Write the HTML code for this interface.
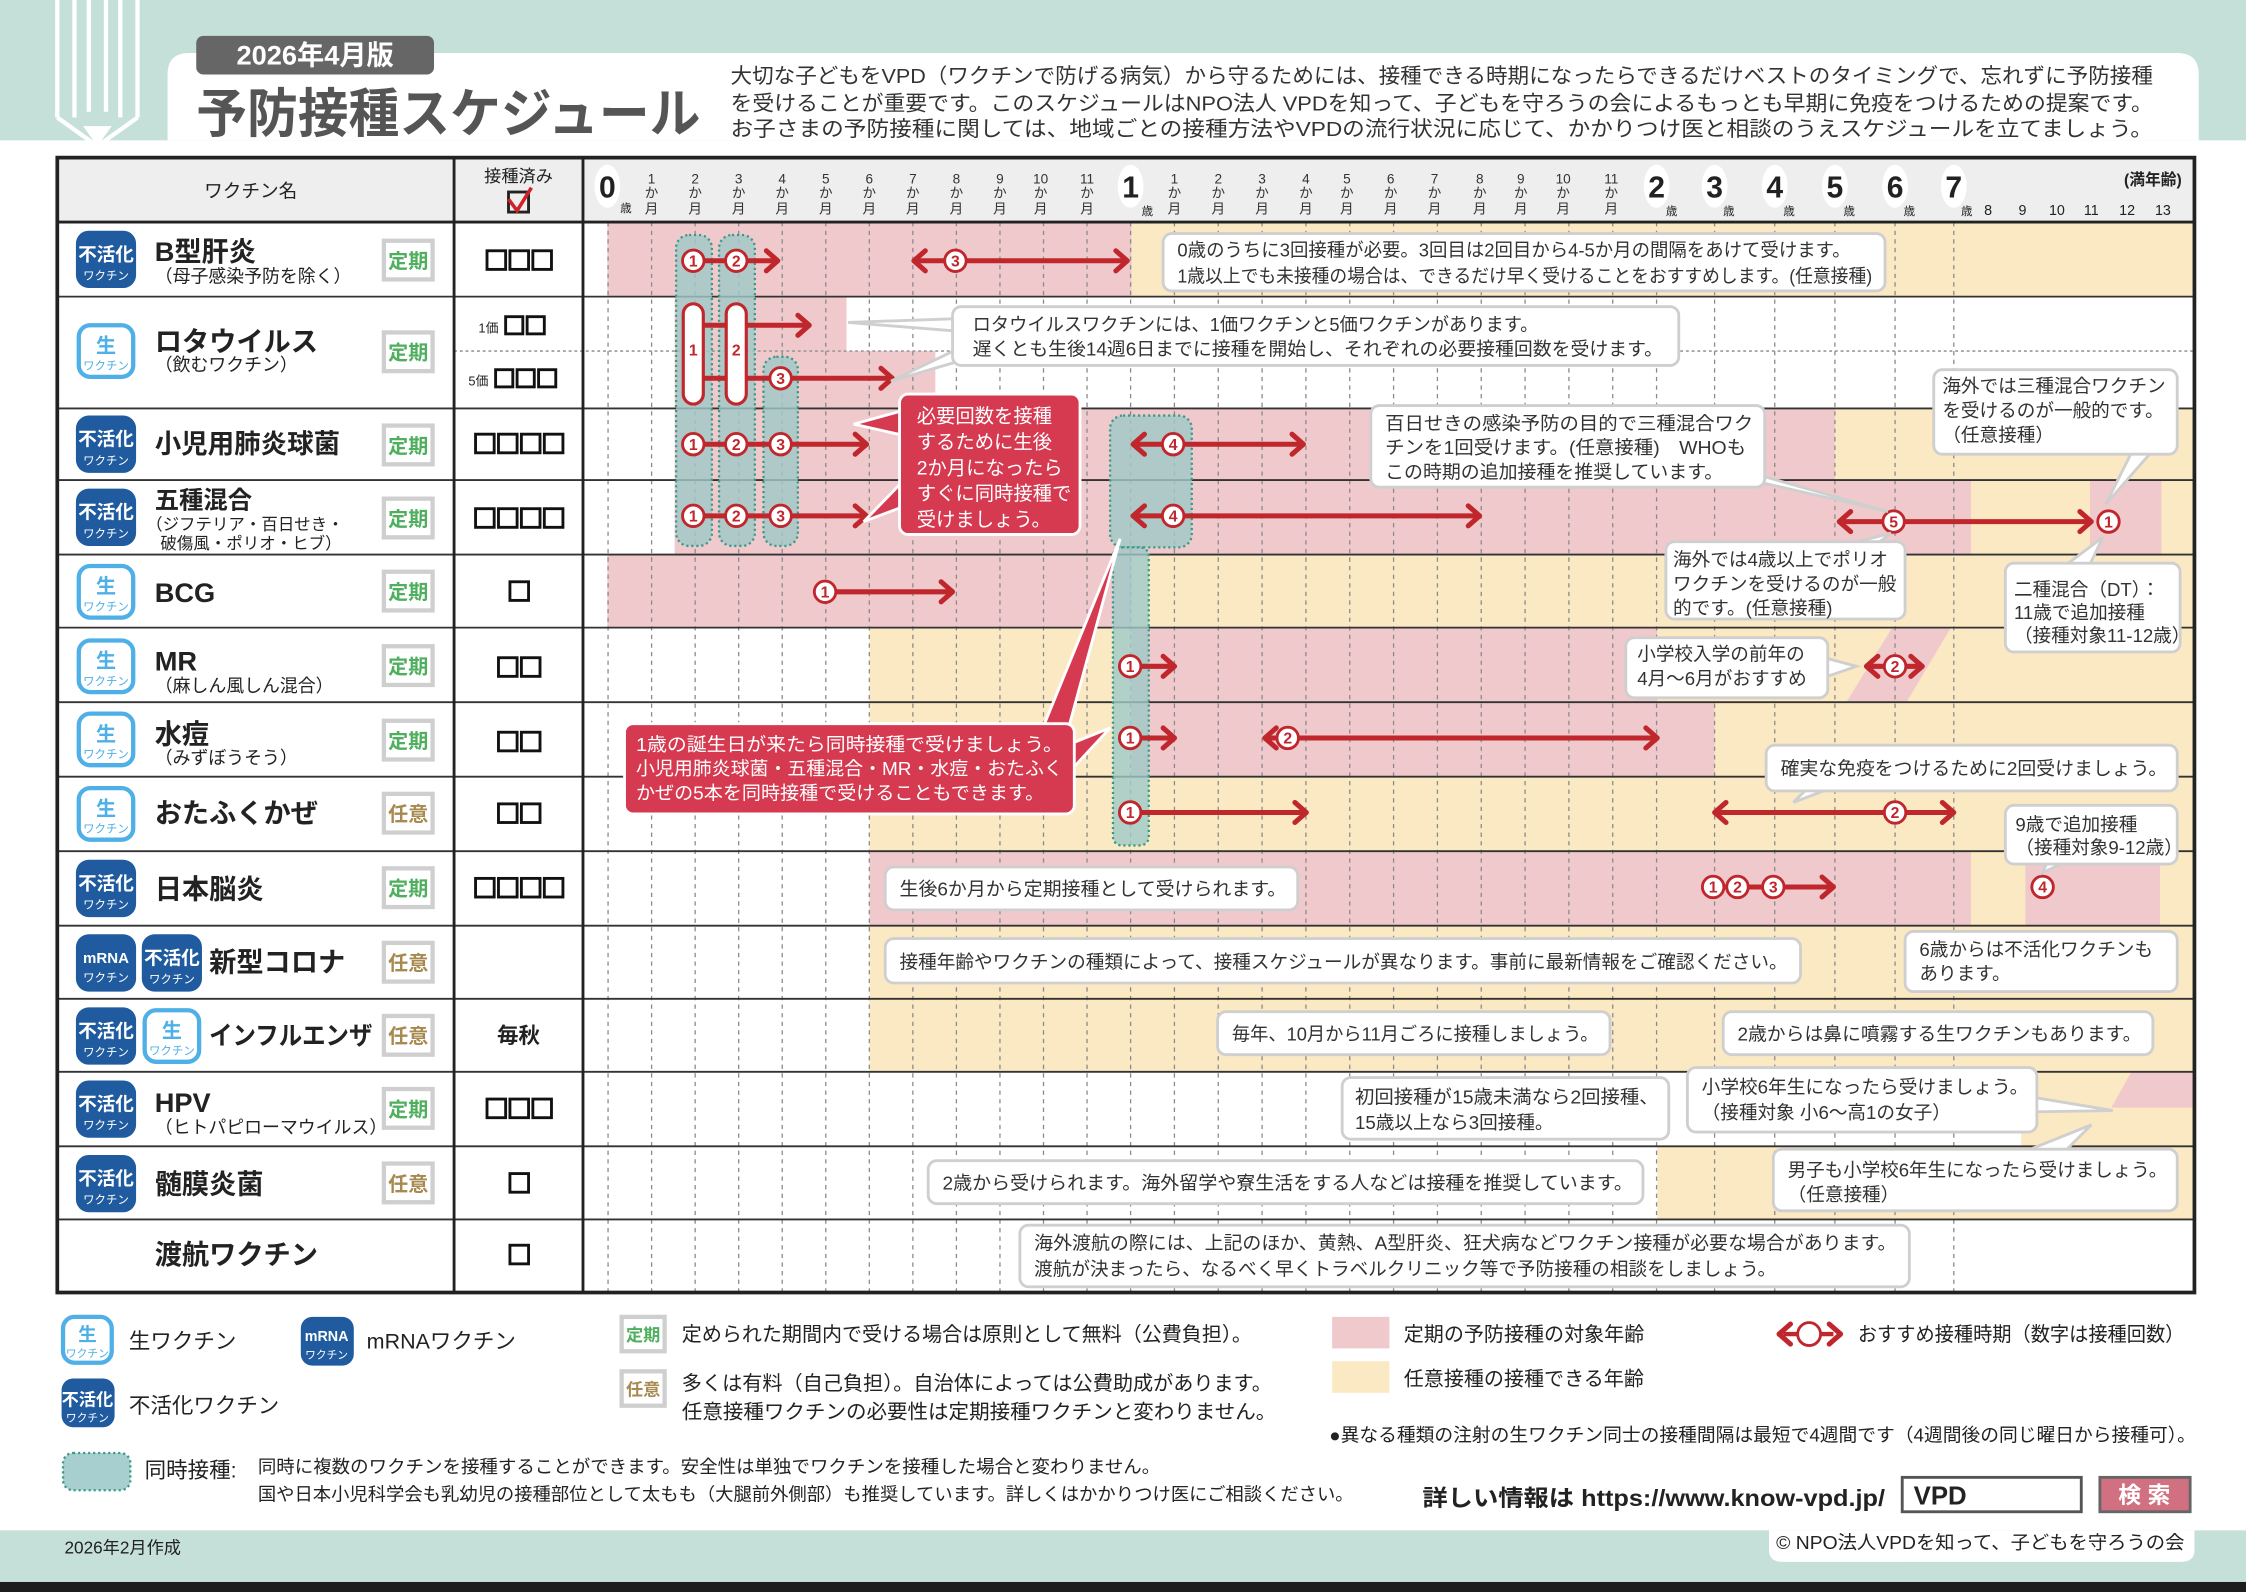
<!DOCTYPE html>
<html><head><meta charset="utf-8"><style>
html,body{margin:0;padding:0;background:#fff;}
svg{display:block;}
text{font-family:"Liberation Sans","Noto Sans CJK JP",sans-serif;fill:#222;}
.b{font-weight:bold;}
.m{font-size:9.5px;fill:#333;text-anchor:middle;}
.bt{font-size:13px;fill:#333;}
.w{fill:#fff;}
.cn{font-size:11px;fill:#c0272d;text-anchor:middle;font-weight:bold;}
</style></head><body>
<svg width="2246" height="1592" viewBox="0 0 1568 1111" preserveAspectRatio="none" xmlns="http://www.w3.org/2000/svg">
<defs>
<g id="ar"><polyline points="-8,-7 0,0 -8,7" fill="none" stroke="#c0272d" stroke-width="3.5" stroke-linecap="round" stroke-linejoin="round"/></g>
<g id="al"><polyline points="8,-7 0,0 8,7" fill="none" stroke="#c0272d" stroke-width="3.5" stroke-linecap="round" stroke-linejoin="round"/></g>
</defs>
<rect x="0" y="0" width="1568" height="98" fill="#c5e0d8"/>
<path d="M117,98 L117,52 Q117,37 132,37 L1520,37 Q1535,37 1535,52 L1535,98 Z" fill="#fff"/>
<rect x="0" y="98" width="1568" height="970" fill="#fff"/>
<g fill="none" stroke="#fff" stroke-width="3">
<line x1="40" y1="0" x2="40" y2="82"/><line x1="52" y1="0" x2="52" y2="82"/><line x1="84" y1="0" x2="84" y2="82"/><line x1="96" y1="0" x2="96" y2="82"/>
<line x1="62" y1="0" x2="62" y2="78"/><line x1="74" y1="0" x2="74" y2="78"/>
<polyline points="40,82 68,102 96,82"/>
</g>
<polygon points="58,88 78,88 68,102" fill="#fff"/>
<rect x="137" y="25" width="166" height="27" rx="5" fill="#666"/>
<text x="220" y="45" class="b w" font-size="19" text-anchor="middle" style="fill:#fff">2026年4月版</text>
<text x="137" y="92" class="b" font-size="37" style="fill:#555" textLength="352" lengthAdjust="spacingAndGlyphs">予防接種スケジュール</text>
<text x="510" y="58" font-size="14.5" style="fill:#333" textLength="993" lengthAdjust="spacingAndGlyphs">大切な子どもをVPD（ワクチンで防げる病気）から守るためには、接種できる時期になったらできるだけベストのタイミングで、忘れずに予防接種</text>
<text x="510" y="77" font-size="14.5" style="fill:#333" textLength="993" lengthAdjust="spacingAndGlyphs">を受けることが重要です。このスケジュールはNPO法人 VPDを知って、子どもを守ろうの会によるもっとも早期に免疫をつけるための提案です。</text>
<text x="510" y="95" font-size="14.5" style="fill:#333" textLength="993" lengthAdjust="spacingAndGlyphs">お子さまの予防接種に関しては、地域ごとの接種方法やVPDの流行状況に応じて、かかりつけ医と相談のうえスケジュールを立てましょう。</text>

<rect x="40" y="110" width="1492" height="45" fill="#eeeeee"/>

<g>
<rect x="424" y="155" width="366" height="52" fill="#f0c9cd"/><rect x="790" y="155" width="742" height="52" fill="#fbe9c3"/>
<rect x="471" y="207" width="120" height="78" fill="#f0c9cd"/><rect x="591" y="245" width="62" height="40" fill="#f0c9cd"/>
<rect x="471" y="285" width="810" height="50" fill="#f0c9cd"/><rect x="1281" y="285" width="251" height="50" fill="#fbe9c3"/>
<rect x="471" y="335" width="905" height="52" fill="#f0c9cd"/><rect x="1376" y="335" width="156" height="52" fill="#fbe9c3"/><rect x="1459" y="335" width="50" height="52" fill="#f0c9cd"/>
<rect x="424" y="387" width="366" height="51" fill="#f0c9cd"/><rect x="790" y="387" width="742" height="51" fill="#fbe9c3"/>
<rect x="607" y="438" width="925" height="52" fill="#fbe9c3"/><rect x="790" y="438" width="367" height="52" fill="#f0c9cd"/>
<polygon points="1321,438 1362,438 1331,490 1289,490" fill="#f0c9cd"/>
<rect x="607" y="490" width="925" height="52" fill="#fbe9c3"/><rect x="790" y="490" width="407" height="52" fill="#f0c9cd"/>
<rect x="607" y="542" width="925" height="52" fill="#fbe9c3"/>
<rect x="607" y="594" width="925" height="52" fill="#fbe9c3"/><rect x="607" y="594" width="769" height="52" fill="#f0c9cd"/><rect x="1414" y="594" width="94" height="52" fill="#f0c9cd"/>
<rect x="607" y="646" width="925" height="102" fill="#fbe9c3"/>
<rect x="1411" y="748" width="121" height="52" fill="#fbe9c3"/><polygon points="1488,748 1532,748 1532,773 1474,773" fill="#f0c9cd"/>
<rect x="1157" y="800" width="375" height="51" fill="#fbe9c3"/>
</g>

<g stroke="#8a8a8a" stroke-width="0.9" stroke-dasharray="3,3">
<line x1="424.5" y1="155" x2="424.5" y2="902"/><line x1="454.9" y1="155" x2="454.9" y2="902"/><line x1="485.3" y1="155" x2="485.3" y2="902"/><line x1="515.7" y1="155" x2="515.7" y2="902"/><line x1="546.1" y1="155" x2="546.1" y2="902"/><line x1="576.5" y1="155" x2="576.5" y2="902"/><line x1="606.9" y1="155" x2="606.9" y2="902"/><line x1="637.3" y1="155" x2="637.3" y2="902"/><line x1="667.7" y1="155" x2="667.7" y2="902"/><line x1="698.1" y1="155" x2="698.1" y2="902"/><line x1="728.5" y1="155" x2="728.5" y2="902"/><line x1="758.9" y1="155" x2="758.9" y2="902"/><line x1="789.3" y1="155" x2="789.3" y2="902"/>
<line x1="819.9" y1="155" x2="819.9" y2="902"/><line x1="850.5" y1="155" x2="850.5" y2="902"/><line x1="881.1" y1="155" x2="881.1" y2="902"/><line x1="911.7" y1="155" x2="911.7" y2="902"/><line x1="942.3" y1="155" x2="942.3" y2="902"/><line x1="972.9" y1="155" x2="972.9" y2="902"/><line x1="1003.5" y1="155" x2="1003.5" y2="902"/><line x1="1034.1" y1="155" x2="1034.1" y2="902"/><line x1="1064.7" y1="155" x2="1064.7" y2="902"/><line x1="1095.3" y1="155" x2="1095.3" y2="902"/><line x1="1125.9" y1="155" x2="1125.9" y2="902"/><line x1="1156.5" y1="155" x2="1156.5" y2="902"/>
<line x1="1197" y1="155" x2="1197" y2="902"/><line x1="1239" y1="155" x2="1239" y2="902"/><line x1="1281" y1="155" x2="1281" y2="902"/><line x1="1323" y1="155" x2="1323" y2="902"/><line x1="1364" y1="155" x2="1364" y2="902"/>
</g>
<line x1="317" y1="245" x2="1532" y2="245" stroke="#999" stroke-width="1.2" stroke-dasharray="2,2"/>

<g stroke="#333" stroke-width="1.3">
<line x1="40" y1="207" x2="1532" y2="207"/><line x1="40" y1="285" x2="1532" y2="285"/><line x1="40" y1="335" x2="1532" y2="335"/><line x1="40" y1="387" x2="1532" y2="387"/><line x1="40" y1="438" x2="1532" y2="438"/><line x1="40" y1="490" x2="1532" y2="490"/><line x1="40" y1="542" x2="1532" y2="542"/><line x1="40" y1="594" x2="1532" y2="594"/><line x1="40" y1="646" x2="1532" y2="646"/><line x1="40" y1="697" x2="1532" y2="697"/><line x1="40" y1="748" x2="1532" y2="748"/><line x1="40" y1="800" x2="1532" y2="800"/><line x1="40" y1="851" x2="1532" y2="851"/>
</g>
<g stroke="#222" stroke-width="2">
<line x1="40" y1="155" x2="1532" y2="155"/><line x1="317" y1="110" x2="317" y2="902"/><line x1="407" y1="110" x2="407" y2="902"/>
</g>
<rect x="40" y="110" width="1492" height="792" fill="none" stroke="#222" stroke-width="2.6"/>

<text x="175" y="138" font-size="13" text-anchor="middle">ワクチン名</text>
<text x="362" y="127" font-size="12" text-anchor="middle">接種済み</text>
<rect x="355" y="134" width="14" height="14" fill="none" stroke="#222" stroke-width="2"/>
<polyline points="355,139 361,147 371,131" fill="none" stroke="#d0202a" stroke-width="2.5"/>
<ellipse cx="424" cy="130" rx="9" ry="15" fill="#fff"/>
<text x="424" y="138" class="b" font-size="21" text-anchor="middle">0</text>
<text x="433" y="148" font-size="8" fill="#333">歳</text>
<g class="m">
<text x="454.9" y="128" class="m">1</text><text x="454.9" y="138" class="m">か</text><text x="454.9" y="149" class="m">月</text>
<text x="485.3" y="128" class="m">2</text><text x="485.3" y="138" class="m">か</text><text x="485.3" y="149" class="m">月</text>
<text x="515.7" y="128" class="m">3</text><text x="515.7" y="138" class="m">か</text><text x="515.7" y="149" class="m">月</text>
<text x="546.1" y="128" class="m">4</text><text x="546.1" y="138" class="m">か</text><text x="546.1" y="149" class="m">月</text>
<text x="576.5" y="128" class="m">5</text><text x="576.5" y="138" class="m">か</text><text x="576.5" y="149" class="m">月</text>
<text x="606.9" y="128" class="m">6</text><text x="606.9" y="138" class="m">か</text><text x="606.9" y="149" class="m">月</text>
<text x="637.3" y="128" class="m">7</text><text x="637.3" y="138" class="m">か</text><text x="637.3" y="149" class="m">月</text>
<text x="667.7" y="128" class="m">8</text><text x="667.7" y="138" class="m">か</text><text x="667.7" y="149" class="m">月</text>
<text x="698.1" y="128" class="m">9</text><text x="698.1" y="138" class="m">か</text><text x="698.1" y="149" class="m">月</text>
<text x="726.5" y="128" class="m">10</text><text x="726.5" y="138" class="m">か</text><text x="726.5" y="149" class="m">月</text>
<text x="758.9" y="128" class="m">11</text><text x="758.9" y="138" class="m">か</text><text x="758.9" y="149" class="m">月</text>
<text x="819.9" y="128" class="m">1</text><text x="819.9" y="138" class="m">か</text><text x="819.9" y="149" class="m">月</text>
<text x="850.5" y="128" class="m">2</text><text x="850.5" y="138" class="m">か</text><text x="850.5" y="149" class="m">月</text>
<text x="881.1" y="128" class="m">3</text><text x="881.1" y="138" class="m">か</text><text x="881.1" y="149" class="m">月</text>
<text x="911.7" y="128" class="m">4</text><text x="911.7" y="138" class="m">か</text><text x="911.7" y="149" class="m">月</text>
<text x="940.3" y="128" class="m">5</text><text x="940.3" y="138" class="m">か</text><text x="940.3" y="149" class="m">月</text>
<text x="970.9" y="128" class="m">6</text><text x="970.9" y="138" class="m">か</text><text x="970.9" y="149" class="m">月</text>
<text x="1001.5" y="128" class="m">7</text><text x="1001.5" y="138" class="m">か</text><text x="1001.5" y="149" class="m">月</text>
<text x="1033.1" y="128" class="m">8</text><text x="1033.1" y="138" class="m">か</text><text x="1033.1" y="149" class="m">月</text>
<text x="1061.7" y="128" class="m">9</text><text x="1061.7" y="138" class="m">か</text><text x="1061.7" y="149" class="m">月</text>
<text x="1091.3" y="128" class="m">10</text><text x="1091.3" y="138" class="m">か</text><text x="1091.3" y="149" class="m">月</text>
<text x="1124.9" y="128" class="m">11</text><text x="1124.9" y="138" class="m">か</text><text x="1124.9" y="149" class="m">月</text>
</g>
<g>
<ellipse cx="789.3" cy="130" rx="9" ry="15" fill="#fff"/><text x="789.3" y="138" class="b" font-size="21" text-anchor="middle">1</text><text x="797" y="150" font-size="8">歳</text>
<ellipse cx="1156.5" cy="130" rx="9" ry="15" fill="#fff"/><text x="1156.5" y="138" class="b" font-size="21" text-anchor="middle">2</text><text x="1163" y="150" font-size="8">歳</text>
<ellipse cx="1197" cy="130" rx="9" ry="15" fill="#fff"/><text x="1197" y="138" class="b" font-size="21" text-anchor="middle">3</text><text x="1203" y="150" font-size="8">歳</text>
<ellipse cx="1239" cy="130" rx="9" ry="15" fill="#fff"/><text x="1239" y="138" class="b" font-size="21" text-anchor="middle">4</text><text x="1245" y="150" font-size="8">歳</text>
<ellipse cx="1281" cy="130" rx="9" ry="15" fill="#fff"/><text x="1281" y="138" class="b" font-size="21" text-anchor="middle">5</text><text x="1287" y="150" font-size="8">歳</text>
<ellipse cx="1323" cy="130" rx="9" ry="15" fill="#fff"/><text x="1323" y="138" class="b" font-size="21" text-anchor="middle">6</text><text x="1329" y="150" font-size="8">歳</text>
<ellipse cx="1364" cy="130" rx="9" ry="15" fill="#fff"/><text x="1364" y="138" class="b" font-size="21" text-anchor="middle">7</text><text x="1369" y="150" font-size="8">歳</text>
<text x="1388" y="150" font-size="10" text-anchor="middle">8</text><text x="1412" y="150" font-size="10" text-anchor="middle">9</text><text x="1436" y="150" font-size="10" text-anchor="middle">10</text><text x="1460" y="150" font-size="10" text-anchor="middle">11</text><text x="1485" y="150" font-size="10" text-anchor="middle">12</text><text x="1510" y="150" font-size="10" text-anchor="middle">13</text>
<text x="1503" y="129" font-size="11" class="b" text-anchor="middle">(満年齢)</text>
</g>

<g fill="#9fc9c8" fill-opacity="0.8" stroke="#3a9a86" stroke-width="1.6" stroke-dasharray="1.5,2">
<rect x="472" y="164" width="25" height="217" rx="9"/>
<rect x="502" y="164" width="25" height="217" rx="9"/>
<rect x="533" y="249" width="24" height="132" rx="9"/>
<rect x="775" y="290" width="57" height="92" rx="9"/>
<rect x="777" y="382" width="25" height="208" rx="6"/>
</g>

<g stroke="#c0272d" stroke-width="3.5">
<line x1="484" y1="182" x2="541" y2="182"/><line x1="640" y1="182" x2="785" y2="182"/>
<line x1="484" y1="227" x2="563" y2="227"/><line x1="484" y1="264" x2="621" y2="264"/>
<line x1="484" y1="310" x2="603" y2="310"/><line x1="793" y1="310" x2="908" y2="310"/>
<line x1="484" y1="360" x2="603" y2="360"/><line x1="793" y1="360" x2="1031" y2="360"/><line x1="1286" y1="364" x2="1458" y2="364"/>
<line x1="576" y1="413" x2="663" y2="413"/>
<line x1="789" y1="465" x2="818" y2="465"/><line x1="1305" y1="465" x2="1340" y2="465"/>
<line x1="789" y1="515" x2="818" y2="515"/><line x1="885" y1="515" x2="1155" y2="515"/>
<line x1="789" y1="567" x2="910" y2="567"/><line x1="1199" y1="567" x2="1362" y2="567"/>
<line x1="1196" y1="619" x2="1278" y2="619"/>
</g>
<use href="#ar" x="543" y="182"/><use href="#al" x="638" y="182"/><use href="#ar" x="787" y="182"/>
<use href="#ar" x="565" y="227"/><use href="#ar" x="623" y="264"/>
<use href="#ar" x="605" y="310"/><use href="#al" x="791" y="310"/><use href="#ar" x="910" y="310"/>
<use href="#ar" x="605" y="360"/><use href="#al" x="791" y="360"/><use href="#ar" x="1033" y="360"/><use href="#al" x="1284" y="364"/><use href="#ar" x="1460" y="364"/>
<use href="#ar" x="665" y="413"/>
<use href="#ar" x="820" y="465"/><use href="#al" x="1303" y="465"/><use href="#ar" x="1342" y="465"/>
<use href="#ar" x="820" y="515"/><use href="#al" x="883" y="515"/><use href="#ar" x="1157" y="515"/>
<use href="#ar" x="912" y="567"/><use href="#al" x="1197" y="567"/><use href="#ar" x="1364" y="567"/>
<use href="#ar" x="1280" y="619"/>
<rect x="477" y="212" width="14" height="70" rx="7" fill="#fff" stroke="#c0272d" stroke-width="2.2"/><text x="484" y="248" class="cn">1</text>
<rect x="507" y="212" width="14" height="70" rx="7" fill="#fff" stroke="#c0272d" stroke-width="2.2"/><text x="514" y="248" class="cn">2</text>
<g fill="#fff" stroke="#c0272d" stroke-width="2">
<circle cx="484" cy="182" r="7.5"/><circle cx="514" cy="182" r="7.5"/><circle cx="667" cy="182" r="7.5"/>
<circle cx="545" cy="264" r="7.5"/>
<circle cx="484" cy="310" r="7.5"/><circle cx="514" cy="310" r="7.5"/><circle cx="545" cy="310" r="7.5"/><circle cx="819" cy="310" r="7.5"/>
<circle cx="484" cy="360" r="7.5"/><circle cx="514" cy="360" r="7.5"/><circle cx="545" cy="360" r="7.5"/><circle cx="819" cy="360" r="7.5"/><circle cx="1322" cy="364" r="7.5"/><circle cx="1472" cy="364" r="7.5"/>
<circle cx="576" cy="413" r="7.5"/>
<circle cx="789" cy="465" r="7.5"/><circle cx="1323" cy="465" r="7.5"/>
<circle cx="789" cy="515" r="7.5"/><circle cx="899" cy="515" r="7.5"/>
<circle cx="789" cy="567" r="7.5"/><circle cx="1323" cy="567" r="7.5"/>
<circle cx="1196" cy="619" r="7.5"/><circle cx="1213" cy="619" r="7.5"/><circle cx="1238" cy="619" r="7.5"/><circle cx="1426" cy="619" r="7.5"/>
</g>
<g class="cn">
<text x="484" y="186" class="cn">1</text><text x="514" y="186" class="cn">2</text><text x="667" y="186" class="cn">3</text>
<text x="545" y="268" class="cn">3</text>
<text x="484" y="314" class="cn">1</text><text x="514" y="314" class="cn">2</text><text x="545" y="314" class="cn">3</text><text x="819" y="314" class="cn">4</text>
<text x="484" y="364" class="cn">1</text><text x="514" y="364" class="cn">2</text><text x="545" y="364" class="cn">3</text><text x="819" y="364" class="cn">4</text><text x="1322" y="368" class="cn">5</text><text x="1472" y="368" class="cn">1</text>
<text x="576" y="417" class="cn">1</text>
<text x="789" y="469" class="cn">1</text><text x="1323" y="469" class="cn">2</text>
<text x="789" y="519" class="cn">1</text><text x="899" y="519" class="cn">2</text>
<text x="789" y="571" class="cn">1</text><text x="1323" y="571" class="cn">2</text>
<text x="1196" y="623" class="cn">1</text><text x="1213" y="623" class="cn">2</text><text x="1238" y="623" class="cn">3</text><text x="1426" y="623" class="cn">4</text>
</g>

<g fill="#fff" stroke="#cfcfcf" stroke-width="2">
<rect x="812" y="163" width="504" height="40" rx="6"/>
<polygon points="680,222 592,225 680,232"/><polygon points="680,238 622,266 690,246"/>
<rect x="665" y="214" width="507" height="41" rx="6"/>
<polygon points="1180,318 1318,357 1200,330"/>
<rect x="957" y="283" width="275" height="57" rx="6"/>
<polygon points="1490,312 1470,352 1505,312"/>
<rect x="1350" y="258" width="170" height="59" rx="6"/>
<polygon points="1290,380 1320,372 1310,380"/>
<rect x="1163" y="378" width="167" height="54" rx="6"/>
<polygon points="1440,396 1468,375 1458,396"/>
<rect x="1400" y="393" width="122" height="62" rx="6"/>
<polygon points="1270,458 1296,465 1270,474"/>
<rect x="1135" y="445" width="141" height="42" rx="6"/>
<polygon points="1262,550 1252,560 1278,550"/>
<rect x="1233" y="520" width="287" height="32" rx="6"/>
<polygon points="1430,600 1426,609 1445,600"/>
<rect x="1400" y="562" width="120" height="41" rx="6"/>
<rect x="618" y="605" width="288" height="30" rx="6"/>
<rect x="618" y="655" width="639" height="31" rx="6"/>
<rect x="1330" y="650" width="190" height="42" rx="6"/>
<rect x="850" y="706" width="274" height="30" rx="6"/>
<rect x="1203" y="706" width="300" height="30" rx="6"/>
<rect x="937" y="752" width="228" height="43" rx="6"/>
<polygon points="1415,765 1475,775 1415,776"/>
<rect x="1178" y="745" width="244" height="45" rx="6"/>
<rect x="648" y="810" width="499" height="30" rx="6"/>
<polygon points="1410,805 1460,785 1440,805"/>
<rect x="1238" y="802" width="282" height="43" rx="6"/>
<rect x="712" y="855" width="621" height="43" rx="6"/>
</g>
<g class="bt">
<text x="822" y="179" class="bt" textLength="470" lengthAdjust="spacingAndGlyphs">0歳のうちに3回接種が必要。3回目は2回目から4-5か月の間隔をあけて受けます。</text>
<text x="822" y="197" class="bt" textLength="485" lengthAdjust="spacingAndGlyphs">1歳以上でも未接種の場合は、できるだけ早く受けることをおすすめします。(任意接種)</text>
<text x="679" y="231" class="bt" textLength="395" lengthAdjust="spacingAndGlyphs">ロタウイルスワクチンには、1価ワクチンと5価ワクチンがあります。</text>
<text x="679" y="248" class="bt" textLength="482" lengthAdjust="spacingAndGlyphs">遅くとも生後14週6日までに接種を開始し、それぞれの必要接種回数を受けます。</text>
<text x="967" y="300" class="bt" textLength="257" lengthAdjust="spacingAndGlyphs">百日せきの感染予防の目的で三種混合ワク</text>
<text x="967" y="317" class="bt" textLength="252" lengthAdjust="spacingAndGlyphs">チンを1回受けます。(任意接種)　WHOも</text>
<text x="967" y="334" class="bt" textLength="236" lengthAdjust="spacingAndGlyphs">この時期の追加接種を推奨しています。</text>
<text x="1356" y="274" class="bt">海外では三種混合ワクチン</text>
<text x="1356" y="291" class="bt">を受けるのが一般的です。</text>
<text x="1356" y="308" class="bt">（任意接種）</text>
<text x="1168" y="395" class="bt">海外では4歳以上でポリオ</text>
<text x="1168" y="412" class="bt">ワクチンを受けるのが一般</text>
<text x="1168" y="429" class="bt">的です。(任意接種)</text>
<text x="1406" y="416" class="bt">二種混合（DT）：</text>
<text x="1406" y="432" class="bt">11歳で追加接種</text>
<text x="1406" y="448" class="bt" font-size="12">（接種対象11-12歳）</text>
<text x="1143" y="461" class="bt">小学校入学の前年の</text>
<text x="1143" y="478" class="bt">4月～6月がおすすめ</text>
<text x="1243" y="541" class="bt" textLength="270" lengthAdjust="spacingAndGlyphs">確実な免疫をつけるために2回受けましょう。</text>
<text x="1407" y="580" class="bt">9歳で追加接種</text>
<text x="1407" y="596" class="bt" font-size="12">（接種対象9-12歳）</text>
<text x="628" y="625" class="bt" textLength="270" lengthAdjust="spacingAndGlyphs">生後6か月から定期接種として受けられます。</text>
<text x="628" y="676" class="bt" textLength="620" lengthAdjust="spacingAndGlyphs">接種年齢やワクチンの種類によって、接種スケジュールが異なります。事前に最新情報をご確認ください。</text>
<text x="1340" y="667" class="bt">6歳からは不活化ワクチンも</text>
<text x="1340" y="684" class="bt">あります。</text>
<text x="860" y="726" class="bt" textLength="256" lengthAdjust="spacingAndGlyphs">毎年、10月から11月ごろに接種しましょう。</text>
<text x="1213" y="726" class="bt" textLength="282" lengthAdjust="spacingAndGlyphs">2歳からは鼻に噴霧する生ワクチンもあります。</text>
<text x="946" y="770" class="bt" textLength="212" lengthAdjust="spacingAndGlyphs">初回接種が15歳未満なら2回接種、</text>
<text x="946" y="788" class="bt">15歳以上なら3回接種。</text>
<text x="1188" y="763" class="bt" textLength="228" lengthAdjust="spacingAndGlyphs">小学校6年生になったら受けましょう。</text>
<text x="1188" y="781" class="bt">（接種対象 小6～高1の女子）</text>
<text x="658" y="830" class="bt" textLength="482" lengthAdjust="spacingAndGlyphs">2歳から受けられます。海外留学や寮生活をする人などは接種を推奨しています。</text>
<text x="1248" y="821" class="bt" textLength="265" lengthAdjust="spacingAndGlyphs">男子も小学校6年生になったら受けましょう。</text>
<text x="1248" y="838" class="bt">（任意接種）</text>
<text x="722" y="872" class="bt" textLength="602" lengthAdjust="spacingAndGlyphs">海外渡航の際には、上記のほか、黄熱、A型肝炎、狂犬病などワクチン接種が必要な場合があります。</text>
<text x="722" y="890" class="bt" textLength="518" lengthAdjust="spacingAndGlyphs">渡航が決まったら、なるべく早くトラベルクリニック等で予防接種の相談をしましょう。</text>
</g>

<g fill="#d63a50" stroke="#fff" stroke-width="2">
<polygon points="636,285 596,296 636,305"/><polygon points="636,330 603,364 640,350"/>
<rect x="628" y="275" width="126" height="98" rx="6"/>
<polygon points="728,508 782,376 746,508"/><polygon points="745,520 775,508 750,535"/>
<rect x="436" y="505" width="314" height="63" rx="6"/>
</g>
<g font-size="13.5">
<text x="640" y="295" style="fill:#fff" font-size="13.5">必要回数を接種</text>
<text x="640" y="313" style="fill:#fff" font-size="13.5">するために生後</text>
<text x="640" y="331" style="fill:#fff" font-size="13.5">2か月になったら</text>
<text x="640" y="349" style="fill:#fff" font-size="13.5">すぐに同時接種で</text>
<text x="640" y="367" style="fill:#fff" font-size="13.5">受けましょう。</text>
<text x="444" y="524" style="fill:#fff" font-size="13" textLength="298" lengthAdjust="spacingAndGlyphs">1歳の誕生日が来たら同時接種で受けましょう。</text>
<text x="444" y="541" style="fill:#fff" font-size="13" textLength="298" lengthAdjust="spacingAndGlyphs">小児用肺炎球菌・五種混合・MR・水痘・おたふく</text>
<text x="444" y="558" style="fill:#fff" font-size="13" textLength="285" lengthAdjust="spacingAndGlyphs">かぜの5本を同時接種で受けることもできます。</text>
</g>

<g id="badges">
<g><rect x="53" y="161" width="42" height="40" rx="9" fill="#1f5b9e"/><text x="74" y="182" class="b" font-size="13" text-anchor="middle" style="fill:#fff">不活化</text><text x="74" y="195" font-size="8" text-anchor="middle" style="fill:#fff">ワクチン</text></g>
<g><rect x="53" y="290" width="42" height="40" rx="9" fill="#1f5b9e"/><text x="74" y="311" class="b" font-size="13" text-anchor="middle" style="fill:#fff">不活化</text><text x="74" y="324" font-size="8" text-anchor="middle" style="fill:#fff">ワクチン</text></g>
<g><rect x="53" y="341" width="42" height="40" rx="9" fill="#1f5b9e"/><text x="74" y="362" class="b" font-size="13" text-anchor="middle" style="fill:#fff">不活化</text><text x="74" y="375" font-size="8" text-anchor="middle" style="fill:#fff">ワクチン</text></g>
<g><rect x="53" y="600" width="42" height="40" rx="9" fill="#1f5b9e"/><text x="74" y="621" class="b" font-size="13" text-anchor="middle" style="fill:#fff">不活化</text><text x="74" y="634" font-size="8" text-anchor="middle" style="fill:#fff">ワクチン</text></g>
<g><rect x="53" y="652" width="42" height="40" rx="9" fill="#1f5b9e"/><text x="74" y="672" class="b" font-size="10.5" text-anchor="middle" style="fill:#fff">mRNA</text><text x="74" y="685" font-size="8" text-anchor="middle" style="fill:#fff">ワクチン</text></g>
<g><rect x="99" y="652" width="42" height="40" rx="9" fill="#1f5b9e"/><text x="120" y="673" class="b" font-size="13" text-anchor="middle" style="fill:#fff">不活化</text><text x="120" y="686" font-size="8" text-anchor="middle" style="fill:#fff">ワクチン</text></g>
<g><rect x="53" y="703" width="42" height="40" rx="9" fill="#1f5b9e"/><text x="74" y="724" class="b" font-size="13" text-anchor="middle" style="fill:#fff">不活化</text><text x="74" y="737" font-size="8" text-anchor="middle" style="fill:#fff">ワクチン</text></g>
<g><rect x="53" y="754" width="42" height="40" rx="9" fill="#1f5b9e"/><text x="74" y="775" class="b" font-size="13" text-anchor="middle" style="fill:#fff">不活化</text><text x="74" y="788" font-size="8" text-anchor="middle" style="fill:#fff">ワクチン</text></g>
<g><rect x="53" y="806" width="42" height="40" rx="9" fill="#1f5b9e"/><text x="74" y="827" class="b" font-size="13" text-anchor="middle" style="fill:#fff">不活化</text><text x="74" y="840" font-size="8" text-anchor="middle" style="fill:#fff">ワクチン</text></g>
<g><rect x="55" y="227" width="38" height="36" rx="8" fill="#fff" stroke="#4eb0e6" stroke-width="3"/><text x="74" y="246" class="b" font-size="14" text-anchor="middle" style="fill:#4eb0e6">生</text><text x="74" y="258" font-size="8" text-anchor="middle" style="fill:#4eb0e6">ワクチン</text></g>
<g><rect x="55" y="395" width="38" height="36" rx="8" fill="#fff" stroke="#4eb0e6" stroke-width="3"/><text x="74" y="414" class="b" font-size="14" text-anchor="middle" style="fill:#4eb0e6">生</text><text x="74" y="426" font-size="8" text-anchor="middle" style="fill:#4eb0e6">ワクチン</text></g>
<g><rect x="55" y="447" width="38" height="36" rx="8" fill="#fff" stroke="#4eb0e6" stroke-width="3"/><text x="74" y="466" class="b" font-size="14" text-anchor="middle" style="fill:#4eb0e6">生</text><text x="74" y="478" font-size="8" text-anchor="middle" style="fill:#4eb0e6">ワクチン</text></g>
<g><rect x="55" y="498" width="38" height="36" rx="8" fill="#fff" stroke="#4eb0e6" stroke-width="3"/><text x="74" y="517" class="b" font-size="14" text-anchor="middle" style="fill:#4eb0e6">生</text><text x="74" y="529" font-size="8" text-anchor="middle" style="fill:#4eb0e6">ワクチン</text></g>
<g><rect x="55" y="550" width="38" height="36" rx="8" fill="#fff" stroke="#4eb0e6" stroke-width="3"/><text x="74" y="569" class="b" font-size="14" text-anchor="middle" style="fill:#4eb0e6">生</text><text x="74" y="581" font-size="8" text-anchor="middle" style="fill:#4eb0e6">ワクチン</text></g>
<g><rect x="101" y="705" width="38" height="36" rx="8" fill="#fff" stroke="#4eb0e6" stroke-width="3"/><text x="120" y="724" class="b" font-size="14" text-anchor="middle" style="fill:#4eb0e6">生</text><text x="120" y="736" font-size="8" text-anchor="middle" style="fill:#4eb0e6">ワクチン</text></g>
</g>

<g class="b">
<text x="108" y="182" class="b" font-size="19">B型肝炎</text><text x="108" y="197" font-size="12.5" style="font-weight:normal">（母子感染予防を除く）</text>
<text x="108" y="245" class="b" font-size="19">ロタウイルス</text><text x="108" y="259" font-size="12.5" style="font-weight:normal">（飲むワクチン）</text>
<text x="108" y="316" class="b" font-size="18.5">小児用肺炎球菌</text>
<text x="108" y="355" class="b" font-size="17">五種混合</text><text x="102" y="370" font-size="11.5" style="font-weight:normal">（ジフテリア・百日せき・</text><text x="112" y="383" font-size="11.5" style="font-weight:normal">破傷風・ポリオ・ヒブ）</text>
<text x="108" y="420" class="b" font-size="19">BCG</text>
<text x="108" y="468" class="b" font-size="19">MR</text><text x="108" y="483" font-size="12.5" style="font-weight:normal">（麻しん風しん混合）</text>
<text x="108" y="519" class="b" font-size="19">水痘</text><text x="108" y="533" font-size="12.5" style="font-weight:normal">（みずぼうそう）</text>
<text x="108" y="574" class="b" font-size="19">おたふくかぜ</text>
<text x="108" y="627" class="b" font-size="19">日本脳炎</text>
<text x="146" y="678" class="b" font-size="19">新型コロナ</text>
<text x="146" y="729" class="b" font-size="18" textLength="114" lengthAdjust="spacingAndGlyphs">インフルエンザ</text>
<text x="108" y="776" class="b" font-size="19">HPV</text><text x="108" y="791" font-size="12.5" style="font-weight:normal">（ヒトパピローマウイルス）</text>
<text x="108" y="833" class="b" font-size="19">髄膜炎菌</text>
<text x="108" y="882" class="b" font-size="19">渡航ワクチン</text>
</g>

<g fill="#fff" stroke="#cfcfcf" stroke-width="3">
<rect x="268" y="168" width="34" height="27"/><rect x="268" y="232" width="34" height="27"/><rect x="268" y="297" width="34" height="27"/><rect x="268" y="348" width="34" height="27"/><rect x="268" y="399" width="34" height="27"/><rect x="268" y="451" width="34" height="27"/><rect x="268" y="503" width="34" height="27"/><rect x="268" y="554" width="34" height="27"/><rect x="268" y="606" width="34" height="27"/><rect x="268" y="658" width="34" height="27"/><rect x="268" y="709" width="34" height="27"/><rect x="268" y="760" width="34" height="27"/><rect x="268" y="812" width="34" height="27"/>
</g>
<g font-size="14" class="b" text-anchor="middle">
<text x="285" y="187" class="b" text-anchor="middle" style="fill:#4faf5e">定期</text>
<text x="285" y="251" class="b" text-anchor="middle" style="fill:#4faf5e">定期</text>
<text x="285" y="316" class="b" text-anchor="middle" style="fill:#4faf5e">定期</text>
<text x="285" y="367" class="b" text-anchor="middle" style="fill:#4faf5e">定期</text>
<text x="285" y="418" class="b" text-anchor="middle" style="fill:#4faf5e">定期</text>
<text x="285" y="470" class="b" text-anchor="middle" style="fill:#4faf5e">定期</text>
<text x="285" y="522" class="b" text-anchor="middle" style="fill:#4faf5e">定期</text>
<text x="285" y="573" class="b" text-anchor="middle" style="fill:#a88a50">任意</text>
<text x="285" y="625" class="b" text-anchor="middle" style="fill:#4faf5e">定期</text>
<text x="285" y="677" class="b" text-anchor="middle" style="fill:#a88a50">任意</text>
<text x="285" y="728" class="b" text-anchor="middle" style="fill:#a88a50">任意</text>
<text x="285" y="779" class="b" text-anchor="middle" style="fill:#4faf5e">定期</text>
<text x="285" y="831" class="b" text-anchor="middle" style="fill:#a88a50">任意</text>
</g>

<g fill="none" stroke="#111" stroke-width="2">
<rect x="340" y="175" width="13" height="13"/><rect x="356" y="175" width="13" height="13"/><rect x="372" y="175" width="13" height="13"/>
<rect x="353" y="221" width="12" height="12"/><rect x="368" y="221" width="12" height="12"/>
<rect x="346" y="258" width="12" height="12"/><rect x="361" y="258" width="12" height="12"/><rect x="376" y="258" width="12" height="12"/>
<rect x="332" y="303" width="13" height="13"/><rect x="348" y="303" width="13" height="13"/><rect x="364" y="303" width="13" height="13"/><rect x="380" y="303" width="13" height="13"/>
<rect x="332" y="355" width="13" height="13"/><rect x="348" y="355" width="13" height="13"/><rect x="364" y="355" width="13" height="13"/><rect x="380" y="355" width="13" height="13"/>
<rect x="356" y="406" width="13" height="13"/>
<rect x="348" y="459" width="13" height="13"/><rect x="364" y="459" width="13" height="13"/>
<rect x="348" y="511" width="13" height="13"/><rect x="364" y="511" width="13" height="13"/>
<rect x="348" y="561" width="13" height="13"/><rect x="364" y="561" width="13" height="13"/>
<rect x="332" y="613" width="13" height="13"/><rect x="348" y="613" width="13" height="13"/><rect x="364" y="613" width="13" height="13"/><rect x="380" y="613" width="13" height="13"/>
<rect x="340" y="767" width="13" height="13"/><rect x="356" y="767" width="13" height="13"/><rect x="372" y="767" width="13" height="13"/>
<rect x="356" y="819" width="13" height="13"/>
<rect x="356" y="869" width="13" height="13"/>
</g>
<text x="334" y="232" font-size="9">1価</text><text x="327" y="269" font-size="9">5価</text>
<text x="362" y="728" class="b" font-size="15" text-anchor="middle">毎秋</text>

<g><rect x="44" y="919" width="34" height="32" rx="8" fill="#fff" stroke="#4eb0e6" stroke-width="3"/><text x="61" y="936" class="b" font-size="13" text-anchor="middle" style="fill:#4eb0e6">生</text><text x="61" y="947" font-size="7.5" text-anchor="middle" style="fill:#4eb0e6">ワクチン</text></g>
<text x="90" y="941" font-size="15">生ワクチン</text>
<g><rect x="210" y="919" width="37" height="34" rx="8" fill="#1f5b9e"/><text x="228" y="936" class="b" font-size="10" text-anchor="middle" style="fill:#fff">mRNA</text><text x="228" y="948" font-size="7.5" text-anchor="middle" style="fill:#fff">ワクチン</text></g>
<text x="256" y="941" font-size="15">mRNAワクチン</text>
<g><rect x="43" y="962" width="37" height="34" rx="8" fill="#1f5b9e"/><text x="61" y="981" class="b" font-size="12" text-anchor="middle" style="fill:#fff">不活化</text><text x="61" y="992" font-size="7.5" text-anchor="middle" style="fill:#fff">ワクチン</text></g>
<text x="90" y="986" font-size="15">不活化ワクチン</text>
<rect x="434" y="919" width="30" height="24" fill="#fff" stroke="#cfcfcf" stroke-width="3"/><text x="449" y="936" class="b" font-size="12" text-anchor="middle" style="fill:#4faf5e">定期</text>
<text x="476" y="936" font-size="14" textLength="398" lengthAdjust="spacingAndGlyphs">定められた期間内で受ける場合は原則として無料（公費負担）。</text>
<rect x="434" y="957" width="30" height="24" fill="#fff" stroke="#cfcfcf" stroke-width="3"/><text x="449" y="974" class="b" font-size="12" text-anchor="middle" style="fill:#a88a50">任意</text>
<text x="476" y="970" font-size="14" textLength="412" lengthAdjust="spacingAndGlyphs">多くは有料（自己負担）。自治体によっては公費助成があります。</text>
<text x="476" y="990" font-size="14" textLength="415" lengthAdjust="spacingAndGlyphs">任意接種ワクチンの必要性は定期接種ワクチンと変わりません。</text>
<rect x="930" y="919" width="40" height="22" fill="#f0c9cd"/><text x="980" y="936" font-size="14">定期の予防接種の対象年齢</text>
<rect x="930" y="950" width="40" height="22" fill="#fbe9c3"/><text x="980" y="967" font-size="14">任意接種の接種できる年齢</text>
<line x1="1245" y1="931" x2="1280" y2="931" stroke="#c0272d" stroke-width="3"/>
<use href="#al" x="1242" y="931"/><use href="#ar" x="1285" y="931"/>
<circle cx="1263" cy="931" r="8" fill="#fff" stroke="#c0272d" stroke-width="2"/>
<text x="1297" y="936" font-size="14" textLength="228" lengthAdjust="spacingAndGlyphs">おすすめ接種時期（数字は接種回数）</text>
<text x="928" y="1006" font-size="13" textLength="605" lengthAdjust="spacingAndGlyphs">●異なる種類の注射の生ワクチン同士の接種間隔は最短で4週間です（4週間後の同じ曜日から接種可）。</text>
<rect x="44" y="1014" width="47" height="26" rx="7" fill="#a8cfcf" stroke="#3a9a86" stroke-width="1.6" stroke-dasharray="1.5,2"/>
<text x="101" y="1031" font-size="15">同時接種:</text>
<text x="180" y="1028" font-size="12.5" textLength="630" lengthAdjust="spacingAndGlyphs">同時に複数のワクチンを接種することができます。安全性は単独でワクチンを接種した場合と変わりません。</text>
<text x="180" y="1047" font-size="12.5" textLength="765" lengthAdjust="spacingAndGlyphs">国や日本小児科学会も乳幼児の接種部位として太もも（大腿前外側部）も推奨しています。詳しくはかかりつけ医にご相談ください。</text>
<text x="993" y="1051" class="b" font-size="16" textLength="323" lengthAdjust="spacingAndGlyphs">詳しい情報は https://www.know-vpd.jp/</text>
<rect x="1328" y="1031" width="125" height="24" fill="#fff" stroke="#555" stroke-width="2"/>
<text x="1336" y="1050" class="b" font-size="18">VPD</text>
<rect x="1466" y="1031" width="63" height="24" fill="#d07080" stroke="#666" stroke-width="2"/>
<text x="1497" y="1049" class="b" font-size="16" text-anchor="middle" style="fill:#fff">検 索</text>

<rect x="0" y="1068" width="1568" height="36" fill="#c5e0d8"/>
<path d="M1235,1068 L1532,1068 L1532,1082 Q1532,1090 1522,1090 L1245,1090 Q1235,1090 1235,1082 Z" fill="#fff"/>
<text x="45" y="1084" font-size="12">2026年2月作成</text>
<text x="1240" y="1081" font-size="13" textLength="285" lengthAdjust="spacingAndGlyphs">© NPO法人VPDを知って、子どもを守ろうの会</text>
<rect x="0" y="1104" width="1568" height="7" fill="#1c1c1c"/>
</svg>
</body></html>
